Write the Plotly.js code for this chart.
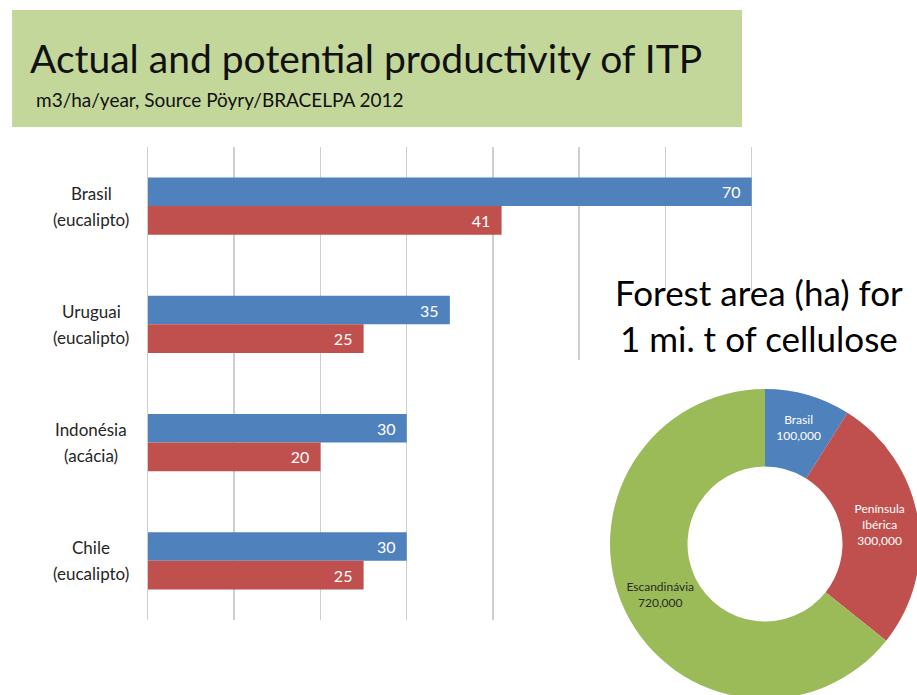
<!DOCTYPE html>
<html>
<head>
<meta charset="utf-8">
<script src="https://cdn.plot.ly/plotly-3.0.1.min.js"></script>
<style>
html,body{margin:0;padding:0;overflow:hidden;background:#fff;}
#chart{width:1000px;height:780px;}
</style>
</head>
<body>
<div id="chart"></div>
<script>
// ---- data ----
const categories = ['Brasil (eucalipto)', 'Uruguai (eucalipto)', 'Indonésia (acácia)', 'Chile (eucalipto)'];
const catLine1 = ['Brasil', 'Uruguai', 'Indonésia', 'Chile'];
const catLine2 = ['(eucalipto)', '(eucalipto)', '(acácia)', '(eucalipto)'];
const potential = [70, 35, 30, 30];
const actual = [41, 25, 20, 25];
const xTicks = [0, 10, 20, 30, 40, 50, 60, 70];

const pieLabels = ['Brasil', 'Península Ibérica', 'Escandinávia'];
const pieValues = [100000, 300000, 720000];

const titleText = 'Actual and potential productivity of ITP';
const subtitleText = 'm3/ha/year, Source Pöyry/BRACELPA 2012';
const pieTitle = 'Forest area (ha) for<br>1 mi. t of cellulose';

// ---- layout helpers (page is 1000x780, margins 0) ----
const W = 1000, H = 780;
const px = x => x / W;
const py = y => 1 - y / H;
const FONT = 'Lato, "Open Sans", sans-serif';

const blue = '#4f81bd', red = '#c0504d', green = '#9bbb59';
const grid = '#cfcfcf';

const traces = [
  {
    type: 'bar', orientation: 'h', name: 'Potential',
    y: categories, x: potential,
    marker: {color: blue},
    texttemplate: '%{x}\u00a0\u00a0',
    textposition: 'inside', insidetextanchor: 'end',
    textfont: {color: '#ffffff', size: 16, family: FONT},
    constraintext: 'none', cliponaxis: false,
    hoverinfo: 'x+y'
  },
  {
    type: 'bar', orientation: 'h', name: 'Actual',
    y: categories, x: actual,
    marker: {color: red},
    texttemplate: '%{x}\u00a0\u00a0',
    textposition: 'inside', insidetextanchor: 'end',
    textfont: {color: '#ffffff', size: 16, family: FONT},
    constraintext: 'none', cliponaxis: false,
    hoverinfo: 'x+y'
  },
  {
    type: 'pie',
    labels: pieLabels,
    values: pieValues,
    text: pieLabels.map(l => l.replace(' ', '<br>')),
    texttemplate: '%{text}<br>%{value:,}',
    textinfo: 'text',
    textposition: 'inside',
    insidetextorientation: 'horizontal',
    textfont: {size: 12, family: FONT, color: ['#ffffff', '#ffffff', '#2a2a2a']},
    marker: {colors: [blue, red, green], line: {width: 0}},
    hole: 0.5, sort: false, direction: 'clockwise', rotation: 0,
    showlegend: false,
    domain: {x: [px(610), px(920)], y: [py(699), py(389)]}
  }
];

// y (category index) of a pixel row inside the bar plot area
const plotTop = 147, plotBottom = 620;
const catH = (plotBottom - plotTop) / categories.length;
const rowToCat = y => -0.5 + (y - plotTop) / catH;

const annotations = [
  {text: titleText, xref: 'paper', yref: 'paper', x: px(28), y: py(58), xanchor: 'left', yanchor: 'middle',
   showarrow: false, font: {family: FONT, size: 39, color: '#111111'}},
  {text: subtitleText, xref: 'paper', yref: 'paper', x: px(34), y: py(99), xanchor: 'left', yanchor: 'middle',
   showarrow: false, font: {family: FONT, size: 19, color: '#111111'}},
  {text: pieTitle, xref: 'paper', yref: 'paper', x: px(759), y: py(315), xanchor: 'center', yanchor: 'middle',
   showarrow: false, font: {family: FONT, size: 35, color: '#000000'}}
];
categories.forEach((c, i) => {
  annotations.push({text: catLine1[i], xref: 'paper', yref: 'y', x: px(91), y: i, yshift: 13,
    xanchor: 'center', yanchor: 'middle', showarrow: false, font: {family: FONT, size: 17, color: '#262626'}});
  annotations.push({text: catLine2[i], xref: 'paper', yref: 'y', x: px(91), y: i, yshift: -13,
    xanchor: 'center', yanchor: 'middle', showarrow: false, font: {family: FONT, size: 17, color: '#262626'}});
});

const layout = {
  width: W, height: H,
  margin: {l: 0, r: 0, t: 0, b: 0, pad: 0},
  paper_bgcolor: '#ffffff', plot_bgcolor: 'rgba(0,0,0,0)',
  showlegend: false,
  barmode: 'group', bargap: 0.515, bargroupgap: 0,
  xaxis: {
    domain: [px(148), px(753)], range: [0, 70.15], tickvals: xTicks,
    showticklabels: false, showgrid: true, gridcolor: grid, gridwidth: 1.5,
    zeroline: false, showline: false, fixedrange: true
  },
  yaxis: {
    domain: [py(plotBottom), py(plotTop)], range: [categories.length - 0.5, -0.5], autorange: false,
    categoryorder: 'array', categoryarray: categories,
    showticklabels: false, showgrid: false, zeroline: false,
    showline: true, linecolor: grid, linewidth: 1.5, fixedrange: true
  },
  shapes: [
    {type: 'rect', xref: 'paper', yref: 'paper', x0: px(12), x1: px(742), y0: py(127), y1: py(10),
     fillcolor: '#c4d79b', line: {width: 0}, layer: 'below'},
    {type: 'rect', xref: 'x', yref: 'y', x0: 51, x1: 80, y0: rowToCat(290), y1: 5,
     fillcolor: '#ffffff', line: {width: 0}, layer: 'between'},
    {type: 'rect', xref: 'x', yref: 'y', x0: 41, x1: 80, y0: rowToCat(360), y1: 5,
     fillcolor: '#ffffff', line: {width: 0}, layer: 'between'}
  ],
  annotations: annotations,
  font: {family: FONT}
};

Plotly.newPlot('chart', traces, layout, {displayModeBar: false, staticPlot: true});
</script>
</body>
</html>
